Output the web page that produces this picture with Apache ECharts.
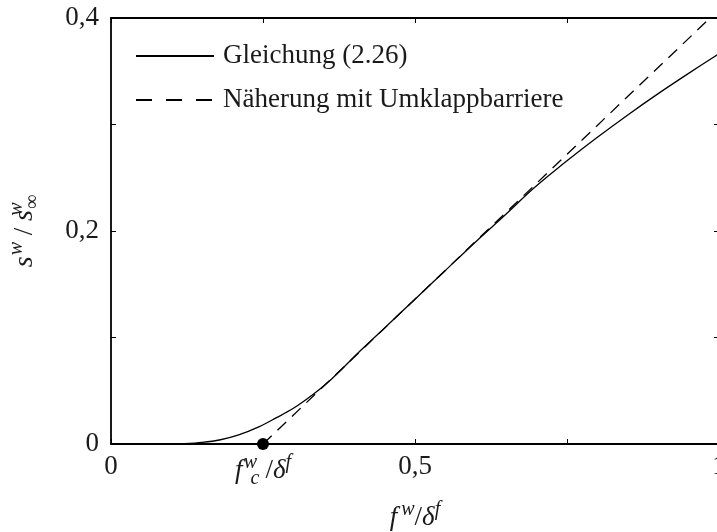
<!DOCTYPE html>
<html>
<head>
<meta charset="utf-8">
<script src="https://cdn.jsdelivr.net/npm/echarts@6/dist/echarts.min.js"></script>
<style>
html,body{margin:0;padding:0;background:#fff;}
#chart{width:717px;height:532px;}
</style>
</head>
<body>
<div id="chart"></div>
<script>
// ---- data ----
const seriesNames = ['Gleichung (2.26)', 'Näherung mit Umklappbarriere'];
const xSolid = [0, 0.1, 0.12, 0.15, 0.18, 0.21, 0.244, 0.27, 0.3, 0.33, 0.356, 0.38, 0.41, 0.45, 0.5, 0.55, 0.6, 0.65, 0.69, 0.72, 0.75, 0.8, 0.85, 0.9, 0.95, 1.0];
const ySolid = [0, 0, 0.0003, 0.0015, 0.004, 0.0085, 0.0163, 0.024, 0.0335, 0.0455, 0.0575, 0.0705, 0.0875, 0.109, 0.136, 0.163, 0.190, 0.216, 0.2375, 0.252, 0.266, 0.288, 0.309, 0.329, 0.348, 0.3665];
const xDash = [0.25, 1.0];
const yDash = [0, 0.408];
const criticalPoint = [0.25, 0];
const xTickLabels = {0: '0', 0.25: 'FC', 0.5: '0,5', 0.75: '', 1: '1'};
const yTickLabels = {0: '0', 0.1: '', 0.2: '0,2', 0.3: '', 0.4: '0,4'};

const FONT = 'Liberation Serif';
const TXT = '#1a1a1a';
const FS = 27;

const chart = echarts.init(document.getElementById('chart'), null, {renderer: 'canvas'});

const mathRich = {
  it: {fontFamily: FONT, fontStyle: 'italic', fontSize: FS, color: TXT, lineHeight: 36},
  itf: {fontFamily: FONT, fontStyle: 'italic', fontSize: FS, color: TXT, lineHeight: 36, padding: [0, 4, 0, 0]},
  itfc: {fontFamily: FONT, fontStyle: 'italic', fontSize: FS, color: TXT, lineHeight: 36, padding: [0, 8, 0, 0]},
  its: {fontFamily: FONT, fontStyle: 'italic', fontSize: 28, color: TXT, lineHeight: 36, padding: [0, 1, 0, 0]},
  rm: {fontFamily: FONT, fontSize: FS, color: TXT, lineHeight: 36},
  sup: {fontFamily: FONT, fontStyle: 'italic', fontSize: 20, color: TXT, verticalAlign: 'top', lineHeight: 22},
  sup0: {fontFamily: FONT, fontStyle: 'italic', fontSize: 20, color: TXT, verticalAlign: 'top', lineHeight: 22, width: 0},
  sub: {fontFamily: FONT, fontStyle: 'italic', fontSize: 20, color: TXT, verticalAlign: 'bottom', lineHeight: 20, padding: [0, 6, 0, 0]},
  subrm: {fontFamily: FONT, fontSize: 20, color: TXT, verticalAlign: 'bottom', lineHeight: 20}
};

function fmtKey(v) { return Math.round(v * 100) / 100; }

const axisLineStyle = {color: '#000', width: 1.8};

const option = {
  animation: false,
  backgroundColor: '#fff',
  grid: {left: 111, top: 18, width: 608, height: 426, containLabel: false, outerBoundsMode: 'none'},
  legend: {
    orient: 'vertical',
    left: 135,
    top: 40,
    padding: 0,
    itemWidth: 78,
    itemHeight: 14,
    itemGap: 12,
    data: [
      {name: seriesNames[0]},
      {name: seriesNames[1], lineStyle: {type: [16, 14]}}
    ],
    itemStyle: {opacity: 0},
    textStyle: {fontFamily: FONT, fontSize: FS, color: TXT, lineHeight: 32, padding: [0, 0, 0, 4]},
    selectedMode: false
  },
  xAxis: [{
    type: 'value', min: 0, max: 1, interval: 0.25, position: 'bottom',
    axisLine: {show: true, onZero: false, lineStyle: axisLineStyle},
    axisTick: {show: true, inside: true, length: 5, lineStyle: {color: '#000', width: 1}},
    splitLine: {show: false},
    axisLabel: {
      margin: 9, fontFamily: FONT, fontSize: FS, color: TXT,
      formatter: function (v) {
        const t = xTickLabels[fmtKey(v)];
        if (t === 'FC') return '{itfc|f}{sup0|w}{sub|c}{rm|/}{it|δ}{sup|f}';
        return t === undefined ? '' : t;
      },
      rich: mathRich
    },
    name: '{itf|f}{sup|w}{rm|/}{it|δ}{sup|f}',
    nameLocation: 'middle', nameGap: 56,
    nameTextStyle: {rich: mathRich}
  }, {
    type: 'value', min: 0, max: 1, interval: 0.25, position: 'top',
    axisLine: {show: true, onZero: false, lineStyle: axisLineStyle},
    axisTick: {show: true, inside: true, length: 5, lineStyle: {color: '#000', width: 1}},
    axisLabel: {show: false}, splitLine: {show: false}
  }],
  yAxis: [{
    type: 'value', min: 0, max: 0.4, interval: 0.1, position: 'left',
    axisLine: {show: true, onZero: false, lineStyle: axisLineStyle},
    axisTick: {show: true, inside: true, length: 5, lineStyle: {color: '#000', width: 1}},
    splitLine: {show: false},
    axisLabel: {
      margin: 12, fontFamily: FONT, fontSize: FS, color: TXT,
      formatter: function (v) {
        const t = yTickLabels[fmtKey(v)];
        return t === undefined ? '' : t;
      }
    },
    name: '{its|s}{sup|w}{rm| / }{its|s}{sup0|w}{subrm|∞}',
    nameLocation: 'middle', nameGap: 68, nameRotate: 90,
    nameTextStyle: {rich: mathRich}
  }, {
    type: 'value', min: 0, max: 0.4, interval: 0.1, position: 'right',
    axisLine: {show: true, onZero: false, lineStyle: axisLineStyle},
    axisTick: {show: true, inside: true, length: 5, lineStyle: {color: '#000', width: 1}},
    axisLabel: {show: false}, splitLine: {show: false}
  }],
  series: [{
    name: seriesNames[0], type: 'line', xAxisIndex: 0, yAxisIndex: 0,
    data: xSolid.map((x, i) => [x, ySolid[i]]),
    showSymbol: false, symbol: 'none', smooth: 0.3,
    lineStyle: {color: '#000', width: 1.3},
    itemStyle: {color: '#000'}, z: 3
  }, {
    name: seriesNames[1], type: 'line', xAxisIndex: 0, yAxisIndex: 0,
    data: xDash.map((x, i) => [x, yDash[i]]),
    showSymbol: false, symbol: 'none',
    lineStyle: {color: '#000', width: 1.3, type: [12, 8]},
    itemStyle: {color: '#000'}, z: 3
  }, {
    name: 'fc', type: 'scatter', xAxisIndex: 0, yAxisIndex: 0,
    data: [criticalPoint], symbol: 'circle', symbolSize: 12, clip: false,
    itemStyle: {color: '#000', opacity: 1}, z: 5, silent: true
  }]
};
chart.setOption(option);
</script>
</body>
</html>
